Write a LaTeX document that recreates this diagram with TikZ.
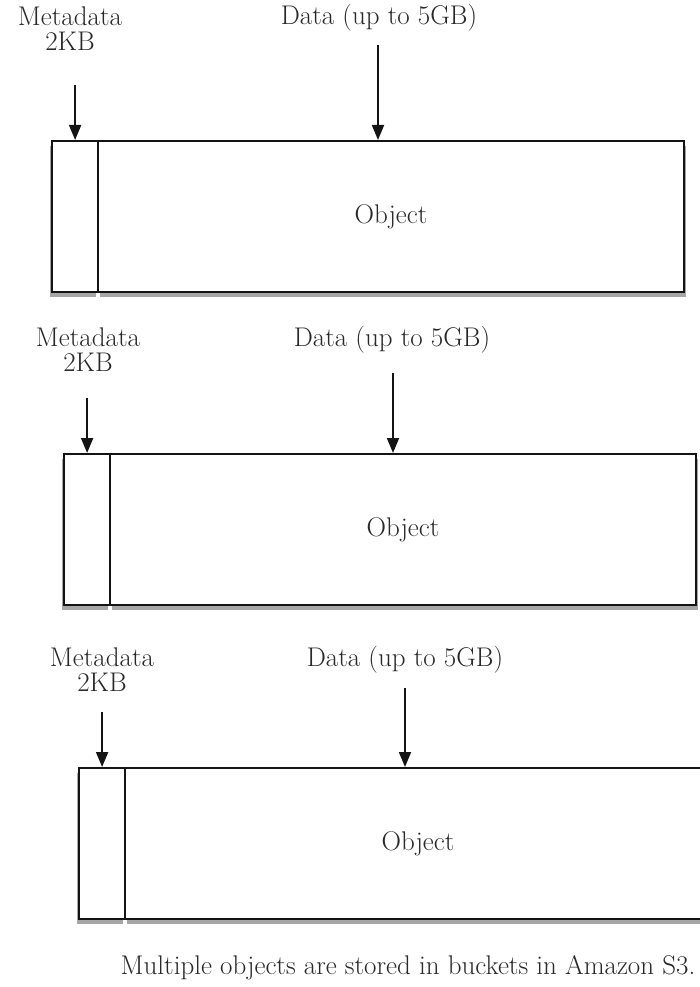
\documentclass[tikz,border=0pt]{standalone}
\usepackage{tikz}
\usetikzlibrary{arrows.meta,positioning,calc,shadows}
\definecolor{BoxLine}{RGB}{20,20,20}
\definecolor{TextGray}{RGB}{40,40,40}
\tikzset{
  lbl/.style={font=\fontsize{27}{25}\selectfont,text=TextGray,align=center,inner sep=0pt},
  metabox/.style={draw=BoxLine,line width=2.2pt,fill=white,inner sep=0pt,anchor=north west,
    minimum width=46pt,minimum height=151pt,
    drop shadow={shadow xshift=-2pt,shadow yshift=-5pt,opacity=.7}},
  objbox/.style={draw=BoxLine,line width=2pt,fill=white,inner sep=0pt,anchor=north west,
    minimum width=586pt,minimum height=151pt,lbl,
    drop shadow={shadow xshift=2pt,shadow yshift=-5pt,opacity=.7}},
  feed/.style={line width=1.8pt,BoxLine,-{Triangle[width=12pt,length=15pt]}}
}

\begin{document}
\begin{tikzpicture}[x=1pt,y=-1pt]
  \useasboundingbox (0,0) rectangle (700,987);
  \begin{scope}[shift={(51,140)}]
    \node[objbox] (obj1) at (46,0) {Object};
    \node[metabox] (meta1) at (0,0) {};
    \node[lbl] (metalbl1) at (19,-111) {Metadata\\2KB};
    \node[lbl] (datalbl1) at (328,-122) {Data (up to 5GB)};
    \coordinate (mtop1) at ($(meta1.north)+(0,-55)$);
    \coordinate (dtop1) at (327,-95);
    \draw[feed] (mtop1) -- (meta1.north);
    \draw[feed] (dtop1) -- (dtop1 |- obj1.north);
  \end{scope}
  \begin{scope}[shift={(63,453)}]
    \node[objbox] (obj2) at (46,0) {Object};
    \node[metabox] (meta2) at (0,0) {};
    \node[lbl] (metalbl2) at (25,-103.5) {Metadata\\2KB};
    \node[lbl] (datalbl2) at (329,-113) {Data (up to 5GB)};
    \coordinate (mtop2) at ($(meta2.north)+(0,-55)$);
    \coordinate (dtop2) at (330,-80);
    \draw[feed] (mtop2) -- (meta2.north);
    \draw[feed] (dtop2) -- (dtop2 |- obj2.north);
  \end{scope}
  \begin{scope}[shift={(78,767)}]
    \node[objbox] (obj3) at (46,0) {Object};
    \node[metabox] (meta3) at (0,0) {};
    \node[lbl] (metalbl3) at (24,-97.5) {Metadata\\2KB};
    \node[lbl] (datalbl3) at (327,-107) {Data (up to 5GB)};
    \coordinate (mtop3) at ($(meta3.north)+(0,-55)$);
    \coordinate (dtop3) at (327,-79);
    \draw[feed] (mtop3) -- (meta3.north);
    \draw[feed] (dtop3) -- (dtop3 |- obj3.north);
  \end{scope}
  \node[lbl] (caption) at (408,968) {Multiple objects are stored in buckets in Amazon S3.};
\end{tikzpicture}
\end{document}
